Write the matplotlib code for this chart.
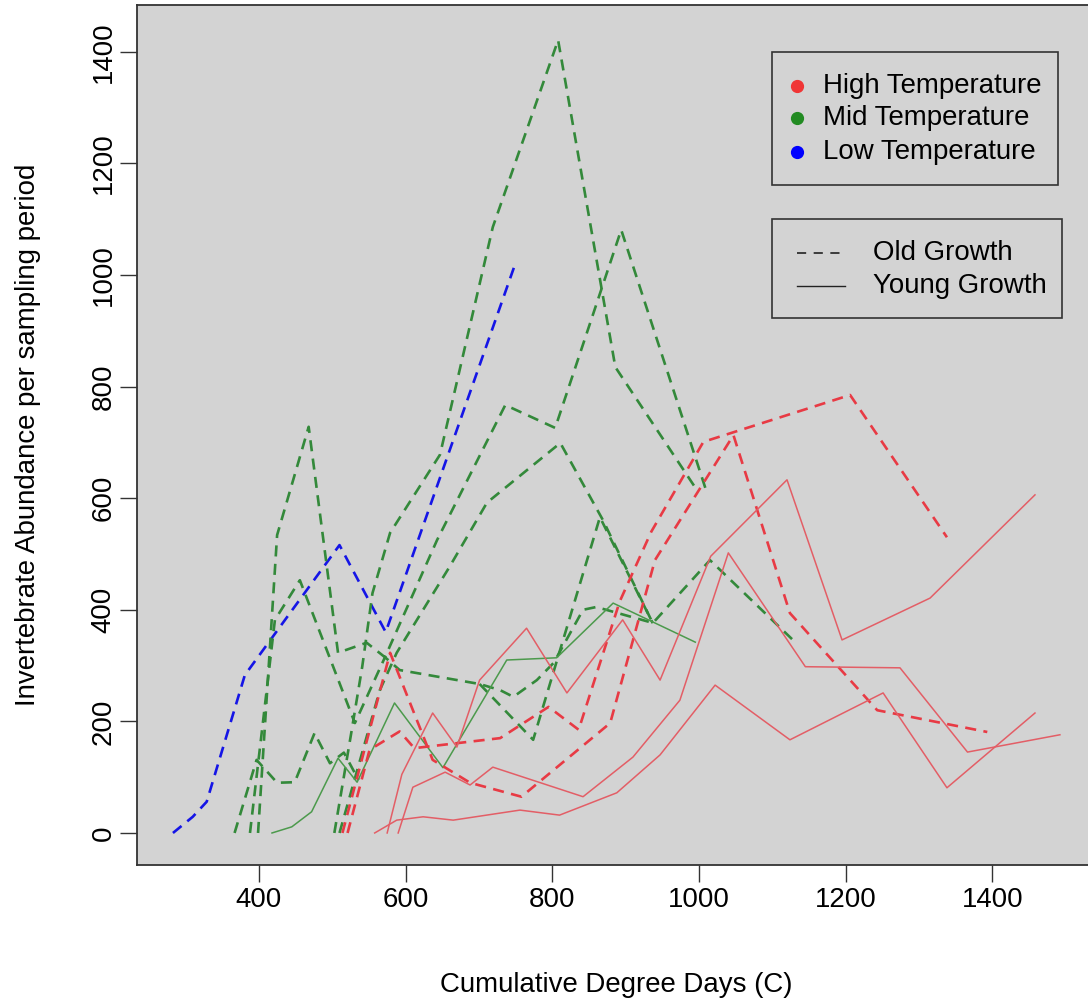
import matplotlib
matplotlib.use('Agg')
import matplotlib.pyplot as plt
from matplotlib.lines import Line2D
from matplotlib.patches import Rectangle

plt.rcParams['font.family'] = ['Liberation Sans', 'DejaVu Sans']

# ---------------- data ----------------
# Low temperature, old growth
low_old_x = [283, 310, 329, 381, 510, 573, 749]
low_old_y = [0, 29, 56, 283, 516, 360, 1018]

# Mid temperature, old growth
mid_old_a_x = [503, 526, 541, 555, 579, 647, 719, 808, 886, 997]
mid_old_a_y = [0, 179, 298, 430, 538, 678, 1086, 1421, 835, 615]
mid_old_b_x = [388, 422, 456, 531, 572, 592, 701, 729, 747, 779, 802, 842, 860, 933]
mid_old_b_y = [0, 382, 453, 197, 315, 292, 267, 256, 244, 274, 305, 400, 405, 378]
mid_old_c_x = [367, 397, 425, 449, 476, 497, 516, 536]
mid_old_c_y = [0, 131, 90, 91, 179, 125, 144, 95]
mid_old_d_x = [510, 565, 588, 660, 711, 811, 869, 937, 1015, 1128]
mid_old_d_y = [0, 256, 323, 477, 592, 699, 561, 376, 489, 346]
mid_old_e_x = [399, 425, 468, 508, 547, 572, 643, 736, 804, 894, 1011]
mid_old_e_y = [0, 534, 728, 323, 341, 315, 525, 767, 726, 1081, 609]
mid_old_f_x = [701, 774, 865, 937]
mid_old_f_y = [267, 167, 566, 376]

# Mid temperature, young growth
mid_young_x = [418, 445, 472, 508, 534, 585, 651, 738, 806, 883, 995]
mid_young_y = [0, 11, 38, 134, 91, 233, 117, 310, 314, 412, 342]

# High temperature, old growth
high_old_a_x = [521, 551, 592, 612, 729, 795, 836, 892, 935, 1006, 1206, 1338]
high_old_a_y = [0, 149, 182, 152, 170, 226, 185, 415, 540, 701, 785, 530]
high_old_b_x = [514, 579, 637, 688, 758, 879, 940, 1047, 1124, 1243, 1393]
high_old_b_y = [0, 323, 131, 90, 65, 197, 489, 713, 394, 220, 181]

# High temperature, young growth
high_young_a_x = [575, 595, 637, 670, 701, 765, 820, 896, 947, 1016, 1120, 1195, 1315, 1458]
high_young_a_y = [0, 105, 215, 154, 274, 367, 251, 382, 274, 496, 633, 346, 421, 606]
high_young_b_x = [590, 610, 654, 688, 719, 842, 910, 974, 1040, 1145, 1274, 1366, 1492]
high_young_b_y = [0, 82, 109, 86, 118, 65, 136, 238, 502, 298, 296, 145, 176]
high_young_c_x = [558, 588, 624, 665, 756, 810, 888, 947, 1022, 1124, 1251, 1338, 1458]
high_young_c_y = [0, 23, 29, 23, 41, 32, 72, 140, 265, 167, 251, 81, 215]

x_ticks = [400, 600, 800, 1000, 1200, 1400]
y_ticks = [0, 200, 400, 600, 800, 1000, 1200, 1400]
temp_labels = ['High Temperature', 'Mid Temperature', 'Low Temperature']
growth_labels = ['Old Growth', 'Young Growth']
x_title = 'Cumulative Degree Days (C)'
y_title = 'Invertebrate Abundance per sampling period'

# ---------------- style ----------------
RED_D = '#E83A44'
RED_S = '#E35E66'
GREEN_D = '#33893A'
GREEN_S = '#4C9A4C'
BLUE = '#1515E6'
FS = 19.9
DASH_LW = 1.9
SOLID_LW = 1.1
DASHES = (4.2, 2.8)

W, H = 1088, 1002
fig = plt.figure(figsize=(W / 100, H / 100), dpi=100)
L, R, T, B = 137, 1090, 5, 865
ax = fig.add_axes([L / W, 1 - B / H, (R - L) / W, (B - T) / H])
ax.set_facecolor('#D3D3D3')
ax.set_xlim(234, 1533)
ax.set_ylim(-57.4, 1484)


def dashed(x, y, c):
    ax.plot(x, y, color=c, lw=DASH_LW, dashes=DASHES)


def solid(x, y, c):
    ax.plot(x, y, color=c, lw=SOLID_LW)


dashed(low_old_x, low_old_y, BLUE)
dashed(mid_old_a_x, mid_old_a_y, GREEN_D)
dashed(mid_old_b_x, mid_old_b_y, GREEN_D)
dashed(mid_old_c_x, mid_old_c_y, GREEN_D)
dashed(mid_old_d_x, mid_old_d_y, GREEN_D)
dashed(mid_old_e_x, mid_old_e_y, GREEN_D)
dashed(mid_old_f_x, mid_old_f_y, GREEN_D)
solid(mid_young_x, mid_young_y, GREEN_S)
dashed(high_old_a_x, high_old_a_y, RED_D)
dashed(high_old_b_x, high_old_b_y, RED_D)
solid(high_young_a_x, high_young_a_y, RED_S)
solid(high_young_b_x, high_young_b_y, RED_S)
solid(high_young_c_x, high_young_c_y, RED_S)

ax.set_xticks(x_ticks)
ax.set_xticklabels([str(v) for v in x_ticks])
ax.set_yticks(y_ticks)
ax.set_yticklabels([str(v) for v in y_ticks], rotation=90, va='center')
ax.tick_params(direction='out', length=12, width=1.0, color='#333333',
               labelsize=FS, pad=4)
ax.tick_params(axis='y', pad=2.5)
for s in ax.spines.values():
    s.set_linewidth(1.3)
    s.set_color('#333333')


def fx(px):
    return px / W


def fy(py):
    return 1 - py / H


fig.text(fx(616), fy(985), x_title, ha='center', va='center', fontsize=FS)
fig.text(fx(28), fy(435), y_title, ha='center', va='center', fontsize=FS,
         rotation=90)

# legend 1 (temperature)
fig.add_artist(Rectangle((fx(772), fy(185)), (1058 - 772) / W, (185 - 52) / H,
                         transform=fig.transFigure, fill=False,
                         edgecolor='#333333', lw=1.2))
for lab, col, py in zip(temp_labels, ['#F03535', '#228B22', '#0000FF'],
                        [86, 118, 152]):
    fig.add_artist(Line2D([fx(797)], [fy(py)], marker='o', ms=8.5, color=col,
                          transform=fig.transFigure))
    fig.text(fx(823), fy(py), lab, ha='left', va='center', fontsize=FS)

# legend 2 (growth)
fig.add_artist(Rectangle((fx(772), fy(318)), (1062 - 772) / W, (318 - 219) / H,
                         transform=fig.transFigure, fill=False,
                         edgecolor='#333333', lw=1.2))
for lab, ls, py in zip(growth_labels, ['--', '-'], [253, 286]):
    if ls == '--':
        fig.add_artist(Line2D([fx(797), fx(845)], [fy(py), fy(py)], color='#222222',
                              lw=1.2, dashes=(5.5, 4.5), transform=fig.transFigure))
    else:
        fig.add_artist(Line2D([fx(797), fx(845)], [fy(py), fy(py)], color='#222222',
                              lw=1.0, transform=fig.transFigure))
    fig.text(fx(873), fy(py), lab, ha='left', va='center', fontsize=FS)

fig.savefig('out.png', dpi=100)
